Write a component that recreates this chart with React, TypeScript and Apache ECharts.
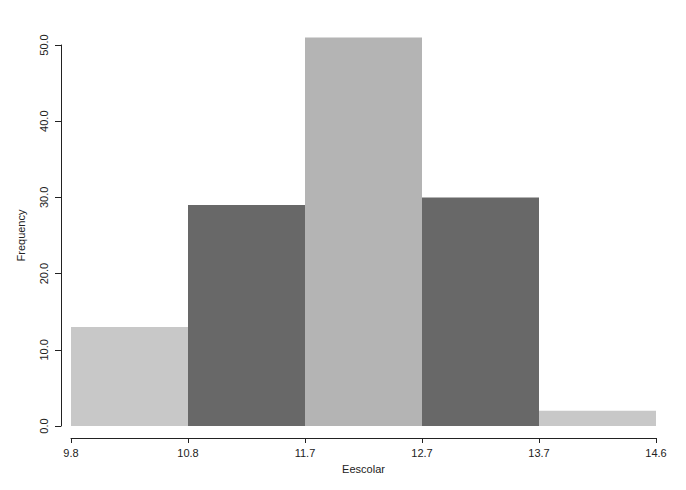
import React, { useEffect, useRef } from "react";
import * as echarts from "echarts";

const binLabels = ["9.8", "10.8", "11.7", "12.7", "13.7", "14.6"];
const frequencies = [13, 29, 51, 30, 2];
const barColors = ["#c8c8c8", "#686868", "#b4b4b4", "#686868", "#c8c8c8"];
const yTicks = [0, 10, 20, 30, 40, 50];

export default function App() {
  const ref = useRef<HTMLDivElement>(null);
  useEffect(() => {
    if (!ref.current) return;
    const chart = echarts.init(ref.current, undefined, { renderer: "svg" });
    const font = "'Liberation Sans', Arial, sans-serif";
    chart.setOption({
      animation: false,
      backgroundColor: "#ffffff",
      grid: { left: 71, right: 30, top: 45, bottom: 64, containLabel: false },
      xAxis: {
        type: "value",
        min: 0,
        max: binLabels.length - 1,
        interval: 1,
        offset: 12,
        name: "Eescolar",
        nameLocation: "middle",
        nameGap: 25,
        nameTextStyle: { color: "#222", fontSize: 11, fontFamily: font },
        axisLine: { show: true, onZero: false, lineStyle: { color: "#222", width: 1 } },
        axisTick: { show: true, length: 5, lineStyle: { color: "#222" } },
        axisLabel: {
          color: "#222",
          fontSize: 11,
          fontFamily: font,
          margin: 9,
          formatter: (v: number) => binLabels[Math.round(v)] ?? "",
        },
        splitLine: { show: false },
      },
      yAxis: {
        type: "value",
        min: yTicks[0],
        max: yTicks[yTicks.length - 1],
        interval: 10,
        offset: 10,
        name: "Frequency",
        nameLocation: "middle",
        nameGap: 35,
        nameRotate: 90,
        nameTextStyle: { color: "#222", fontSize: 11, fontFamily: font },
        axisLine: { show: true, onZero: false, lineStyle: { color: "#222", width: 1 } },
        axisTick: { show: true, length: 6, lineStyle: { color: "#222" } },
        axisLabel: {
          color: "#222",
          fontSize: 11,
          fontFamily: font,
          rotate: 90,
          margin: 12,
          formatter: (v: number) => v.toFixed(1),
        },
        splitLine: { show: false },
      },
      series: [
        {
          type: "custom",
          clip: false,
          data: frequencies.map((f, i) => [i, f]),
          renderItem: (params: any, api: any) => {
            const i = api.value(0);
            const v = api.value(1);
            const p0 = api.coord([i, 0]);
            const p1 = api.coord([i + 1, v]);
            return {
              type: "rect",
              shape: { x: p0[0], y: p1[1], width: p1[0] - p0[0], height: p0[1] - p1[1] },
              style: { fill: barColors[params.dataIndex] },
            };
          },
        },
      ],
    });
    return () => chart.dispose();
  }, []);
  return <div ref={ref} style={{ width: 686, height: 490, margin: -8 }} />;
}
